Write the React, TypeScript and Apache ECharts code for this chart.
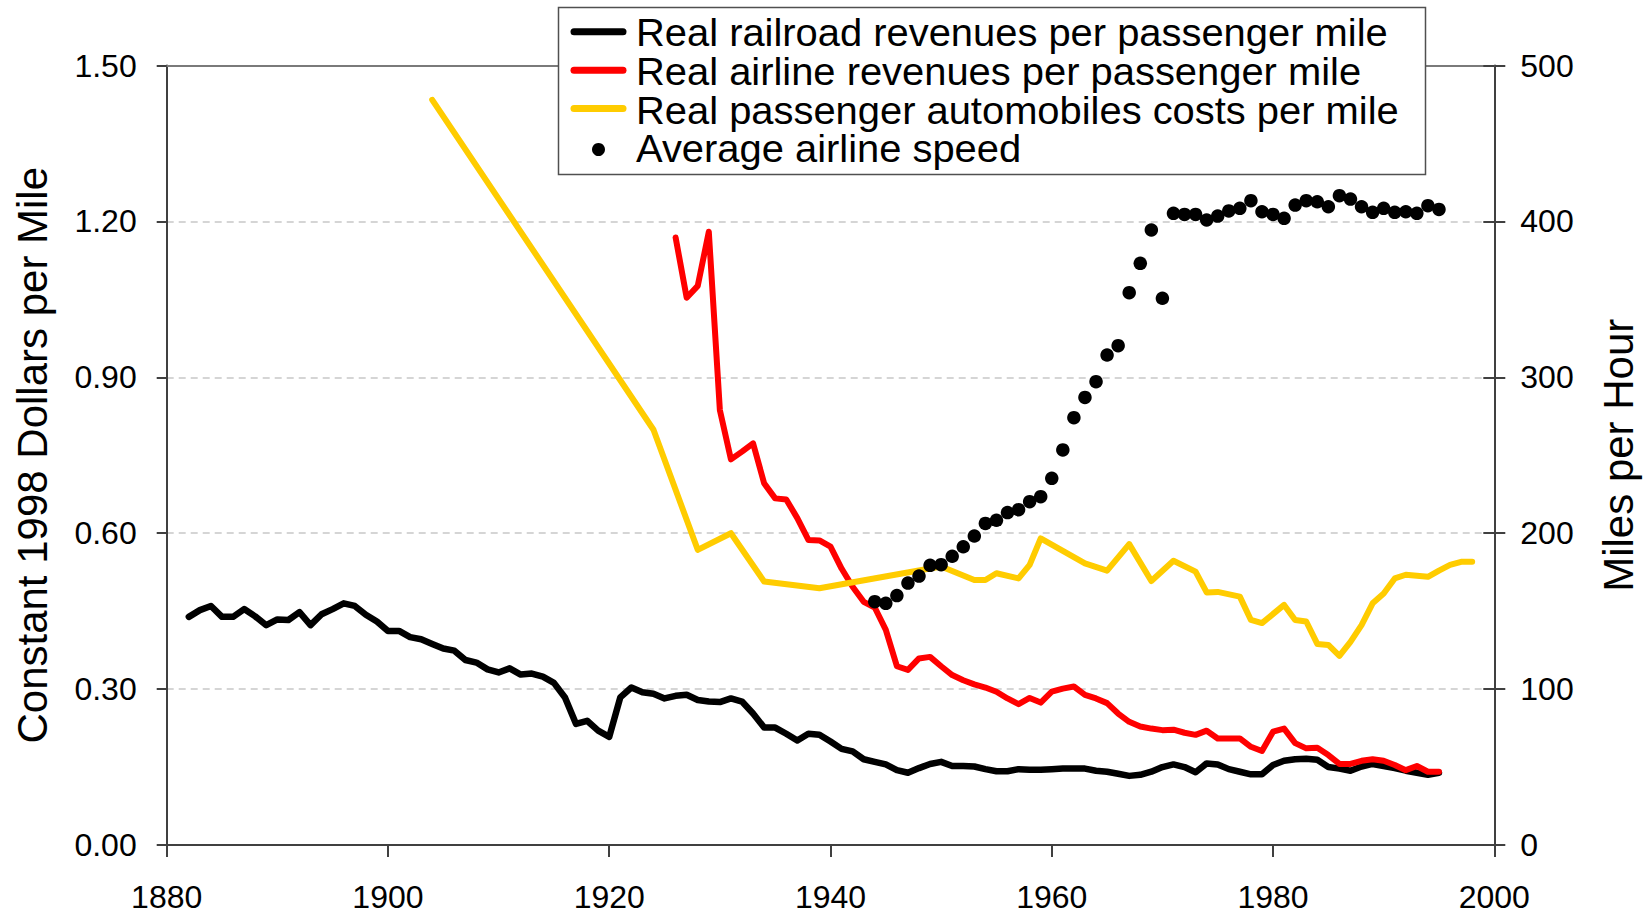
import React, { useEffect, useRef } from "react";
import * as echarts from "echarts";

// ---- Data ----
const railroadStartYear = 1882;
const railroadValues = [
  0.439, 0.452, 0.46, 0.439, 0.439, 0.454, 0.44, 0.423, 0.434, 0.433,
  0.448, 0.423, 0.444, 0.454, 0.465, 0.46, 0.443, 0.43, 0.412, 0.412,
  0.4, 0.396, 0.387, 0.378, 0.374, 0.356, 0.351, 0.338, 0.332, 0.34,
  0.328, 0.33, 0.324, 0.312, 0.284, 0.233, 0.239, 0.22, 0.208, 0.284,
  0.303, 0.294, 0.291, 0.282, 0.287, 0.289, 0.279, 0.276, 0.275, 0.282,
  0.276, 0.253, 0.226, 0.226, 0.214, 0.201, 0.214, 0.212, 0.199, 0.185,
  0.18, 0.165, 0.16, 0.155, 0.144, 0.139, 0.148, 0.156, 0.16, 0.152,
  0.152, 0.151, 0.146, 0.142, 0.142, 0.146, 0.145, 0.145, 0.146, 0.147,
  0.147, 0.147, 0.143, 0.141, 0.137, 0.133, 0.135, 0.141, 0.15, 0.155,
  0.15, 0.14, 0.157, 0.155, 0.146, 0.141, 0.136, 0.136, 0.154, 0.162,
  0.165, 0.166, 0.164, 0.15, 0.147, 0.143, 0.151, 0.156, 0.152, 0.148,
  0.143, 0.139, 0.135, 0.139,
];

const airlineStartYear = 1926;
const airlineValues = [
  1.169, 1.053, 1.076, 1.18, 0.837, 0.742, 0.757, 0.773, 0.696, 0.667,
  0.665, 0.629, 0.587, 0.586, 0.574, 0.532, 0.497, 0.468, 0.457, 0.414,
  0.344, 0.337, 0.359, 0.362, 0.344, 0.327, 0.317, 0.309, 0.303, 0.295,
  0.282, 0.271, 0.283, 0.274, 0.295, 0.301, 0.305, 0.289, 0.282, 0.273,
  0.253, 0.237, 0.228, 0.224, 0.221, 0.222, 0.216, 0.212, 0.22, 0.205,
  0.205, 0.205, 0.189, 0.181, 0.218, 0.224, 0.196, 0.186, 0.187, 0.173,
  0.156, 0.156, 0.162, 0.165, 0.162, 0.154, 0.144, 0.152, 0.141, 0.141,
];

const autoYears = [
  1904, 1924, 1928, 1931, 1934, 1939, 1950, 1953, 1954, 1955, 1957, 1958,
  1959, 1963, 1965, 1967, 1969, 1971, 1973, 1974, 1975, 1977, 1978, 1979,
  1981, 1982, 1983, 1984, 1985, 1986, 1987, 1988, 1989, 1990, 1991, 1992,
  1993, 1994, 1995, 1996, 1997, 1998,
];
const autoValues = [
  1.434, 0.799, 0.568, 0.6, 0.507, 0.494, 0.536, 0.51, 0.51, 0.523, 0.513,
  0.539, 0.59, 0.542, 0.528, 0.579, 0.508, 0.547, 0.526, 0.486, 0.487,
  0.478, 0.433, 0.427, 0.462, 0.433, 0.43, 0.387, 0.385, 0.364, 0.391,
  0.423, 0.465, 0.484, 0.513, 0.52, 0.518, 0.516, 0.528, 0.539, 0.545,
  0.545,
];

const speedStartYear = 1944;
const speedValues = [
  156.1, 155.0, 160.0, 168.0, 172.5, 179.4, 179.8, 185.2, 191.3, 198.2,
  206.3, 208.3, 213.2, 215.1, 220.2, 223.4, 235.2, 253.4, 274.1, 287.1,
  297.2, 314.3, 320.3, 354.3, 373.1, 394.5, 350.7, 405.2, 404.5, 404.5,
  400.9, 403.4, 406.7, 408.4, 413.3, 406.2, 404.5, 402.0, 410.5, 413.3,
  412.6, 409.4, 416.5, 414.3, 409.4, 405.8, 408.4, 405.8, 406.2, 405.2,
  410.1, 407.7,
];

const seriesNames = [
  "Real railroad revenues per passenger mile",
  "Real airline revenues per passenger mile",
  "Real passenger automobiles costs per mile",
  "Average airline speed",
];
const seriesColors = ["#000000", "#ff0000", "#ffcc00", "#000000"];

const leftAxisTitle = "Constant 1998 Dollars per Mile";
const rightAxisTitle = "Miles per Hour";

const FONT = 'Arial, "Liberation Sans", Helvetica, sans-serif';

const toPairs = (start: number, vals: number[]) =>
  vals.map((v, i) => [start + i, v]);

export default function App() {
  const ref = useRef<HTMLDivElement>(null);

  useEffect(() => {
    if (!ref.current) return;
    const chart = echarts.init(ref.current, undefined, { renderer: "svg" });

    const axisLineStyle = { color: "#404040", width: 2 };

    // Legend drawn as graphic elements
    const legendRowsIcon = [31.7, 70.2, 108.6, 149.5];
    const legendRowsText = [32.8, 71.6, 110.4, 149.2];
    const legendChildren: any[] = [
      {
        type: "rect",
        shape: { x: 558.5, y: 7.5, width: 867, height: 167 },
        style: { fill: "#ffffff", stroke: "#505050", lineWidth: 1.5 },
        z: 100,
      },
    ];
    seriesNames.forEach((name, i) => {
      if (i < 3) {
        legendChildren.push({
          type: "line",
          shape: { x1: 574, y1: legendRowsIcon[i], x2: 623, y2: legendRowsIcon[i] },
          style: { stroke: seriesColors[i], lineWidth: 7, lineCap: "round" },
          z: 101,
        });
      } else {
        legendChildren.push({
          type: "circle",
          shape: { cx: 598.5, cy: legendRowsIcon[i], r: 6.5 },
          style: { fill: seriesColors[i] },
          z: 101,
        });
      }
      legendChildren.push({
        type: "text",
        x: 636,
        y: legendRowsText[i],
        scaleX: 1.05,
        scaleY: 1,
        style: {
          text: name,
          fontFamily: FONT,
          fontSize: 38,
          fill: "#000",
          verticalAlign: "middle",
          align: "left",
        },
        z: 101,
      });
    });

    chart.setOption({
      animation: false,
      backgroundColor: "#ffffff",
      grid: { left: 166.7, right: 153.7, top: 65.5, bottom: 69, containLabel: false },
      xAxis: [
        {
          type: "value",
          min: 1880,
          max: 2000,
          interval: 20,
          position: "bottom",
          axisLine: { show: true, onZero: false, lineStyle: axisLineStyle },
          axisTick: { show: true, inside: false, length: 12, lineStyle: axisLineStyle },
          axisLabel: {
            fontFamily: FONT,
            fontSize: 32,
            color: "#000",
            margin: 36,
            formatter: (v: number) => String(v),
          },
          splitLine: { show: false },
        },
        {
          type: "value",
          min: 1880,
          max: 2000,
          position: "top",
          axisLine: { show: true, onZero: false, lineStyle: { color: "#7a7a7a", width: 2 } },
          axisTick: { show: false },
          axisLabel: { show: false },
          splitLine: { show: false },
        },
      ],
      yAxis: [
        {
          type: "value",
          min: 0,
          max: 1.5,
          interval: 0.3,
          position: "left",
          name: leftAxisTitle,
          nameLocation: "middle",
          nameGap: 113,
          nameRotate: 90,
          nameTextStyle: { fontFamily: FONT, fontSize: 42, color: "#000" },
          axisLine: { show: true, onZero: false, lineStyle: axisLineStyle },
          axisTick: { show: true, inside: false, length: 10, lineStyle: axisLineStyle },
          axisLabel: {
            fontFamily: FONT,
            fontSize: 32,
            color: "#000",
            margin: 30,
            formatter: (v: number) => v.toFixed(2),
          },
          splitLine: {
            show: true,
            showMaxLine: false,
            showMinLine: false,
            lineStyle: { color: "#c8c8c8", width: 1.5, type: [7, 5] },
          },
        },
        {
          type: "value",
          min: 0,
          max: 500,
          interval: 100,
          position: "right",
          name: rightAxisTitle,
          nameLocation: "middle",
          nameGap: 103,
          nameRotate: 90,
          nameTextStyle: { fontFamily: FONT, fontSize: 42, color: "#000" },
          axisLine: { show: true, onZero: false, lineStyle: axisLineStyle },
          axisTick: { show: true, inside: false, length: 11, lineStyle: axisLineStyle },
          axisLabel: {
            fontFamily: FONT,
            fontSize: 32,
            color: "#000",
            margin: 26,
          },
          splitLine: { show: false },
        },
        {
          type: "value",
          min: 0,
          max: 500,
          interval: 100,
          position: "right",
          axisLine: { show: false },
          axisTick: { show: true, inside: true, length: 11, lineStyle: axisLineStyle },
          axisLabel: { show: false },
          splitLine: { show: false },
        },
      ],
      series: [
        {
          name: seriesNames[0],
          type: "line",
          xAxisIndex: 0,
          yAxisIndex: 0,
          data: toPairs(railroadStartYear, railroadValues),
          symbol: "none",
          lineStyle: { color: seriesColors[0], width: 6.5, cap: "round", join: "round" },
          z: 2,
        },
        {
          name: seriesNames[1],
          type: "line",
          xAxisIndex: 0,
          yAxisIndex: 0,
          data: toPairs(airlineStartYear, airlineValues),
          symbol: "none",
          lineStyle: { color: seriesColors[1], width: 6, cap: "round", join: "round" },
          z: 3,
        },
        {
          name: seriesNames[2],
          type: "line",
          xAxisIndex: 0,
          yAxisIndex: 0,
          data: autoYears.map((y, i) => [y, autoValues[i]]),
          symbol: "none",
          lineStyle: { color: seriesColors[2], width: 6, cap: "round", join: "round" },
          z: 4,
        },
        {
          name: seriesNames[3],
          type: "scatter",
          xAxisIndex: 0,
          yAxisIndex: 1,
          data: toPairs(speedStartYear, speedValues),
          symbol: "circle",
          symbolSize: 13.5,
          itemStyle: { color: seriesColors[3], opacity: 1 },
          z: 5,
        },
      ],
      graphic: [{ type: "group", z: 100, children: legendChildren }],
    });

    return () => {
      chart.dispose();
    };
  }, []);

  return (
    <div
      ref={ref}
      style={{
        position: "fixed",
        left: 0,
        top: 0,
        width: 1648,
        height: 914,
        background: "#fff",
      }}
    />
  );
}
